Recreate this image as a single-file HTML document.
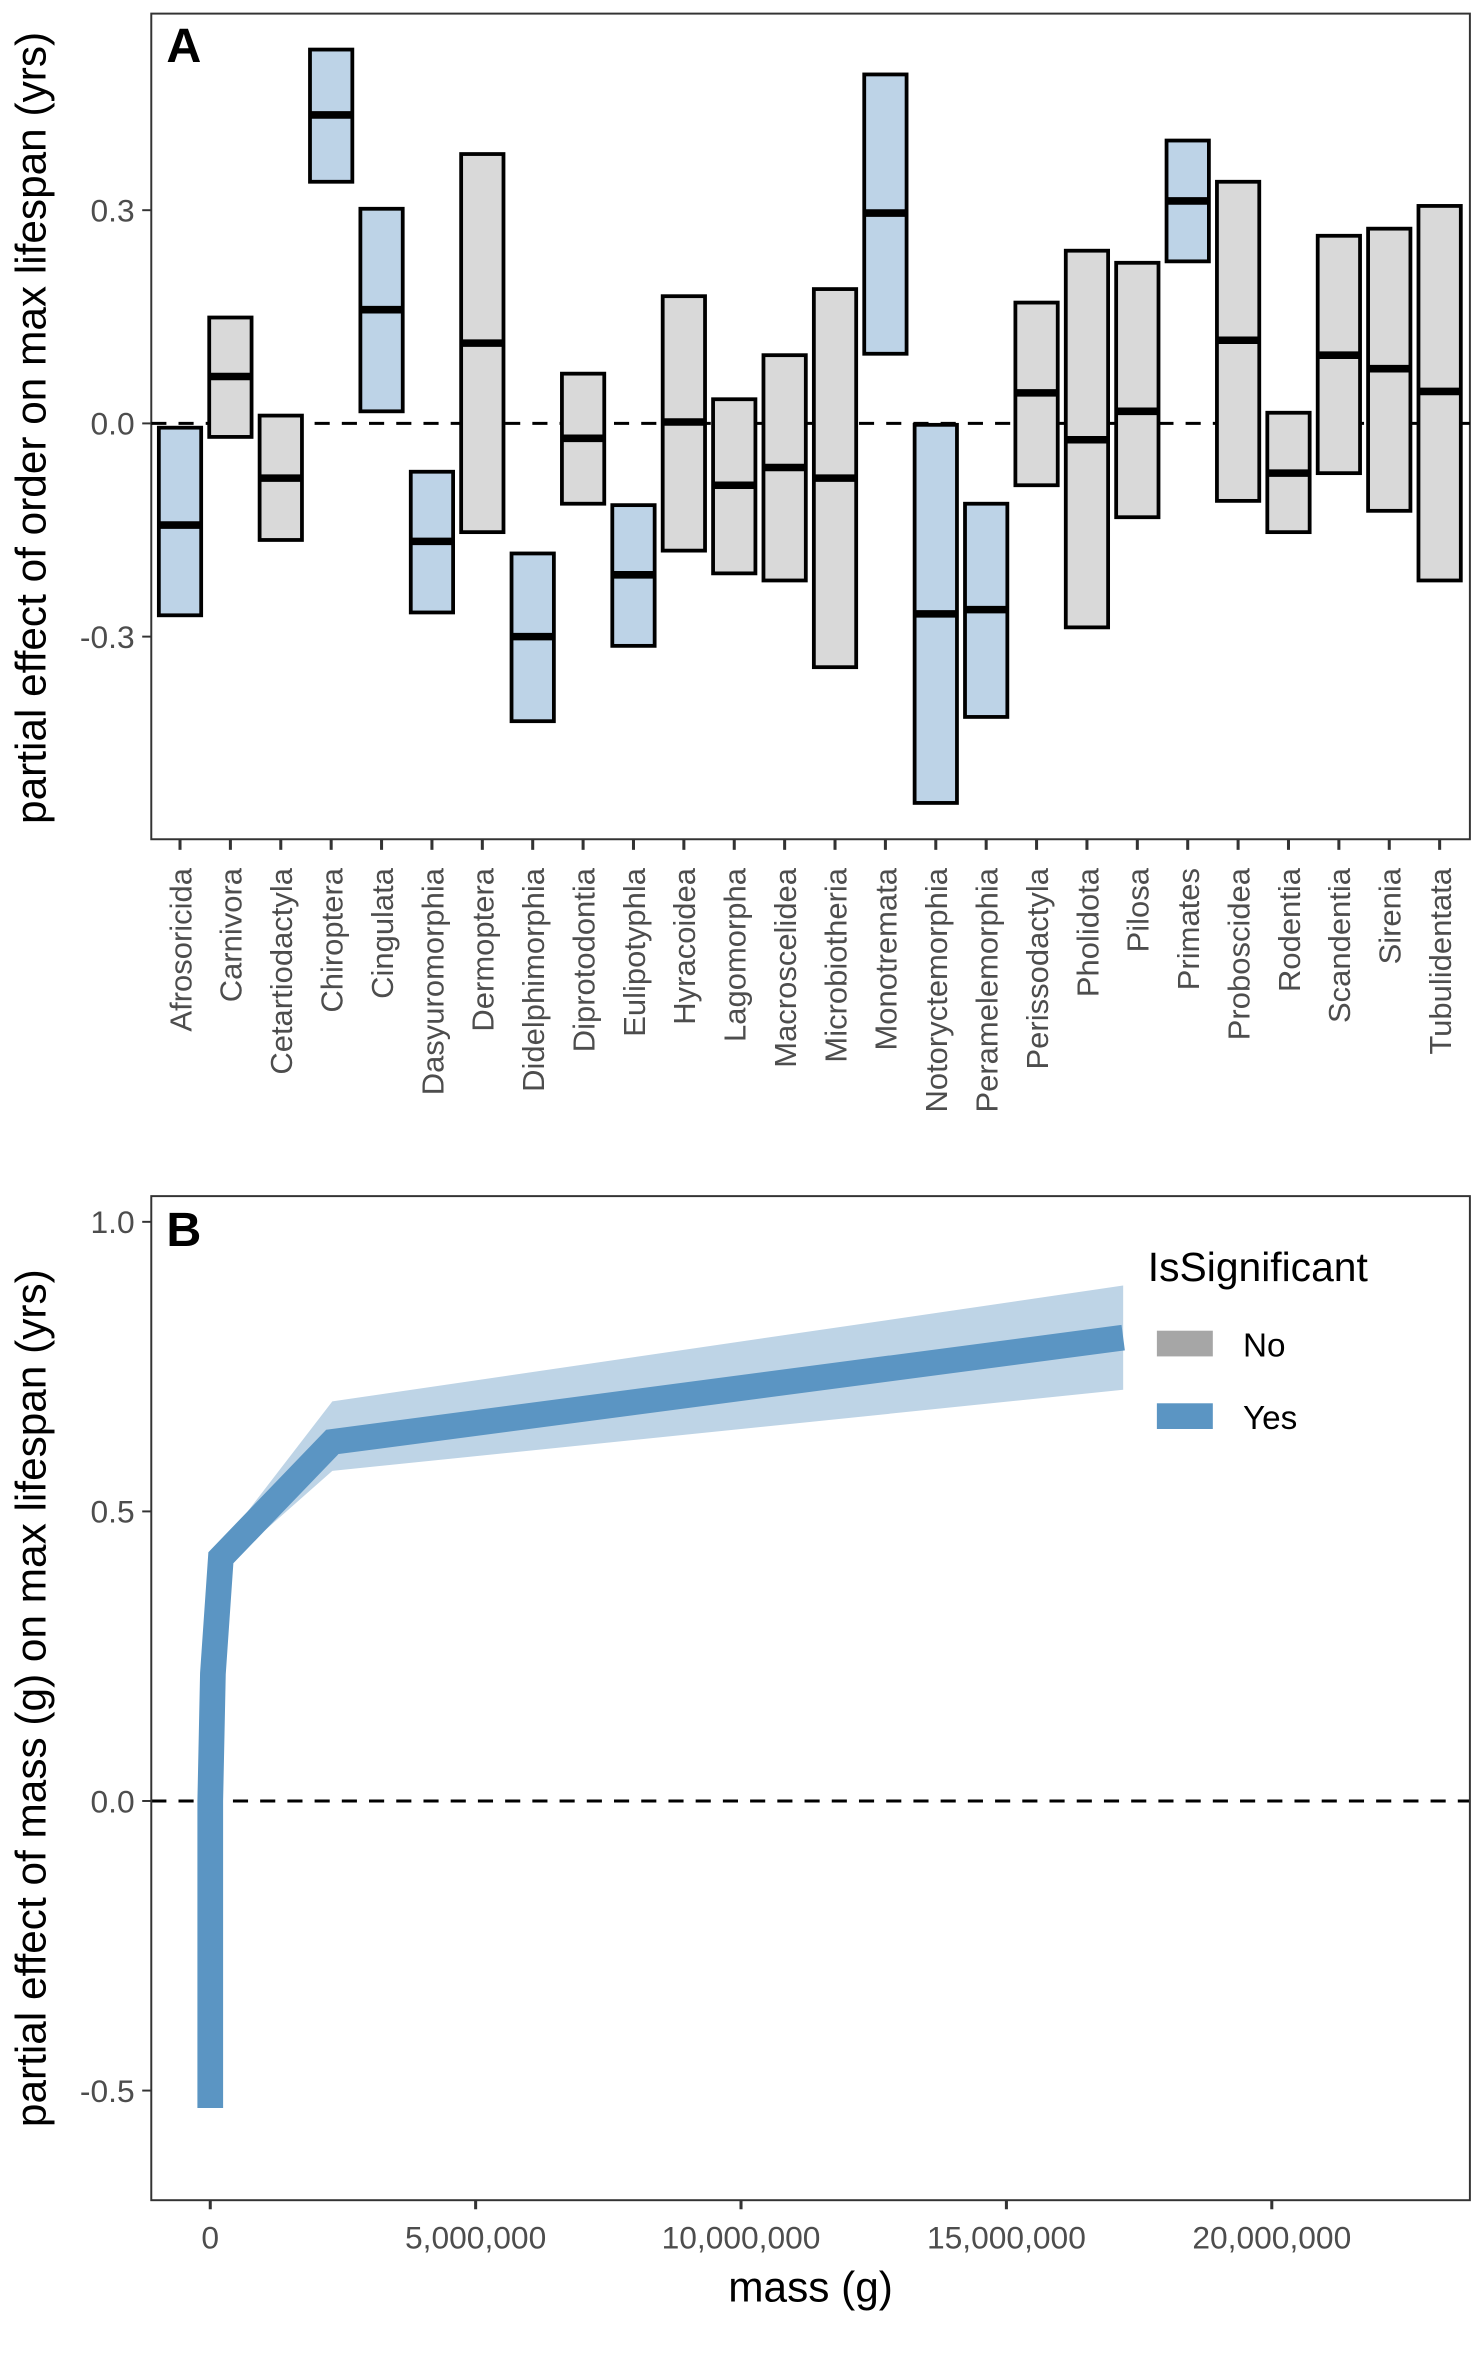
<!DOCTYPE html>
<html><head><meta charset="utf-8"><style>
html,body{margin:0;padding:0;background:#fff}
svg{display:block;font-family:"Liberation Sans",sans-serif}
</style></head><body>
<svg id="chart" xmlns="http://www.w3.org/2000/svg" width="1476" height="2362" viewBox="0 0 976 1562">
<rect width="976" height="1562" fill="#fff"/>
<g id="pa"></g>
<g id="pb"></g>
</svg>
<script>
const orders=["Afrosoricida","Carnivora","Cetartiodactyla","Chiroptera","Cingulata","Dasyuromorphia","Dermoptera","Didelphimorphia","Diprotodontia","Eulipotyphla","Hyracoidea","Lagomorpha","Macroscelidea","Microbiotheria","Monotremata","Notoryctemorphia","Peramelemorphia","Perissodactyla","Pholidota","Pilosa","Primates","Proboscidea","Rodentia","Scandentia","Sirenia","Tubulidentata"];
const upperA=[-0.006,0.149,0.011,0.526,0.302,-0.068,0.379,-0.183,0.070,-0.115,0.179,0.034,0.096,0.189,0.491,-0.002,-0.113,0.170,0.243,0.226,0.398,0.340,0.015,0.264,0.274,0.306];
const medianA=[-0.143,0.066,-0.077,0.434,0.160,-0.166,0.113,-0.300,-0.021,-0.213,0.002,-0.087,-0.062,-0.077,0.296,-0.268,-0.262,0.043,-0.023,0.017,0.313,0.117,-0.070,0.096,0.077,0.045];
const lowerA=[-0.270,-0.019,-0.164,0.340,0.017,-0.266,-0.153,-0.419,-0.113,-0.313,-0.179,-0.211,-0.221,-0.343,0.098,-0.534,-0.413,-0.087,-0.287,-0.132,0.228,-0.109,-0.153,-0.070,-0.123,-0.221];
const sigA=[1,0,0,1,1,1,0,1,0,1,0,0,0,0,1,1,1,0,0,0,1,0,0,0,0,0];
const ticksA=[-0.3,0.0,0.3];
const tickLabelsA=["-0.3","0.0","0.3"];
const massB=[0,0,50000,200000,2300000,17200000];
const fitB=[-0.53,0,0.22,0.42,0.62,0.80];
const lowB=[-0.53,0,0.22,0.40,0.57,0.71];
const highB=[-0.53,0,0.22,0.44,0.69,0.89];
const ticksBy=[-0.5,0.0,0.5,1.0];
const tickLabelsBy=["-0.5","0.0","0.5","1.0"];
const ticksBx=[0,5000000,10000000,15000000,20000000];
const tickLabelsBx=["0","5,000,000","10,000,000","15,000,000","20,000,000"];
const legendLabels=["No","Yes"];

const NS="http://www.w3.org/2000/svg";
function mk(parent,tag,attrs,text){const e=document.createElementNS(NS,tag);for(const k in attrs)e.setAttribute(k,attrs[k]);if(text!==undefined)e.textContent=text;parent.appendChild(e);return e;}

// Panel A
const pa=document.getElementById('pa');
const AL=100,AR=972,AT=9,AB=555;
const yA=v=>280-v*470;
const xA=i=>119+i*(952-119)/25;
mk(pa,'rect',{x:AL,y:AT,width:AR-AL,height:AB-AT,fill:'none',stroke:'#333','stroke-width':1.3});
let e=mk(pa,'line',{x1:AL,x2:AR,y1:yA(0),y2:yA(0),stroke:'#000','stroke-width':2,'stroke-dasharray':'10,8'});


ticksA.forEach((t,i)=>{
  mk(pa,'line',{x1:AL-6,x2:AL,y1:yA(t),y2:yA(t),stroke:'#333','stroke-width':1.3});
  const tl=mk(pa,'text',{x:AL-11,y:yA(t)+7.5,'text-anchor':'end','font-size':21,fill:'#4d4d4d'},tickLabelsA[i]);
  
  
});
orders.forEach((o,i)=>{
  const x=xA(i);
  const r=mk(pa,'rect',{x:x-14,y:yA(upperA[i]),width:28,height:yA(lowerA[i])-yA(upperA[i]),fill:sigA[i]?'#bdd3e7':'#d9d9d9',stroke:'#000','stroke-width':2.5});
  
  
  const m=mk(pa,'line',{x1:x-14,x2:x+14,y1:yA(medianA[i]),y2:yA(medianA[i]),stroke:'#000','stroke-width':5});
  
  
  mk(pa,'line',{x1:x,x2:x,y1:AB,y2:AB+7,stroke:'#333','stroke-width':2});
  const t=mk(pa,'text',{x:0,y:0,transform:`translate(${x+7.5},574) rotate(-90)`,'text-anchor':'end','font-size':20.5,fill:'#4d4d4d'},o);
  
  
});
e=mk(pa,'text',{x:110,y:41,'font-size':32,'font-weight':'bold',fill:'#000'},'A');


e=mk(pa,'text',{x:0,y:0,transform:'translate(30,283) rotate(-90)','text-anchor':'middle','font-size':28,fill:'#000'},'partial effect of order on max lifespan (yrs)');



// Panel B
const pb=document.getElementById('pb');
const BL=100,BR=972,BT=791,BB=1455;
const yB=v=>1191-v*383;
const xB=m=>139+m*(841-139)/20000000;
let up=massB.map((m,i)=>[xB(m),yB(highB[i])]);
let lo=massB.map((m,i)=>[xB(m),yB(lowB[i])]).reverse();
e=mk(pb,'polygon',{points:up.concat(lo).map(p=>p.join(',')).join(' '),fill:'#bed4e6'});


e=mk(pb,'line',{x1:BL,x2:BR,y1:yB(0),y2:yB(0),stroke:'#000','stroke-width':2,'stroke-dasharray':'10,8'});


e=mk(pb,'polyline',{points:massB.map((m,i)=>xB(m)+','+yB(fitB[i])).join(' '),fill:'none',stroke:'#5b95c3','stroke-width':17,'stroke-linejoin':'miter','stroke-linecap':'butt'});


mk(pb,'rect',{x:BL,y:BT,width:BR-BL,height:BB-BT,fill:'none',stroke:'#333','stroke-width':1.3});
ticksBy.forEach((t,i)=>{
  mk(pb,'line',{x1:BL-6,x2:BL,y1:yB(t),y2:yB(t),stroke:'#333','stroke-width':1.3});
  const tl=mk(pb,'text',{x:BL-11,y:yB(t)+7.5,'text-anchor':'end','font-size':21,fill:'#4d4d4d'},tickLabelsBy[i]);
  
  
});
ticksBx.forEach((t,i)=>{
  mk(pb,'line',{x1:xB(t),x2:xB(t),y1:BB,y2:BB+6,stroke:'#333','stroke-width':2});
  const tl=mk(pb,'text',{x:xB(t),y:BB+32,'text-anchor':'middle','font-size':21,fill:'#4d4d4d'},tickLabelsBx[i]);
  
  
});
e=mk(pb,'text',{x:110,y:824,'font-size':32,'font-weight':'bold',fill:'#000'},'B');


e=mk(pb,'text',{x:0,y:0,transform:'translate(30,1123) rotate(-90)','text-anchor':'middle','font-size':28,fill:'#000'},'partial effect of mass (g) on max lifespan (yrs)');


e=mk(pb,'text',{x:536,y:1522,'text-anchor':'middle','font-size':28,fill:'#000'},'mass (g)');


// legend
e=mk(pb,'text',{x:759,y:847,'font-size':27,fill:'#000'},'IsSignificant');


const legCols=['#a6a6a6','#5b95c3'];
legendLabels.forEach((l,i)=>{
  const y=880+i*48;
  const r=mk(pb,'rect',{x:765,y:y,width:37,height:17,fill:legCols[i]});
  
  
  const t=mk(pb,'text',{x:822,y:y+17,'font-size':22,fill:'#000'},l);
  
  
});
</script>
</body></html>
